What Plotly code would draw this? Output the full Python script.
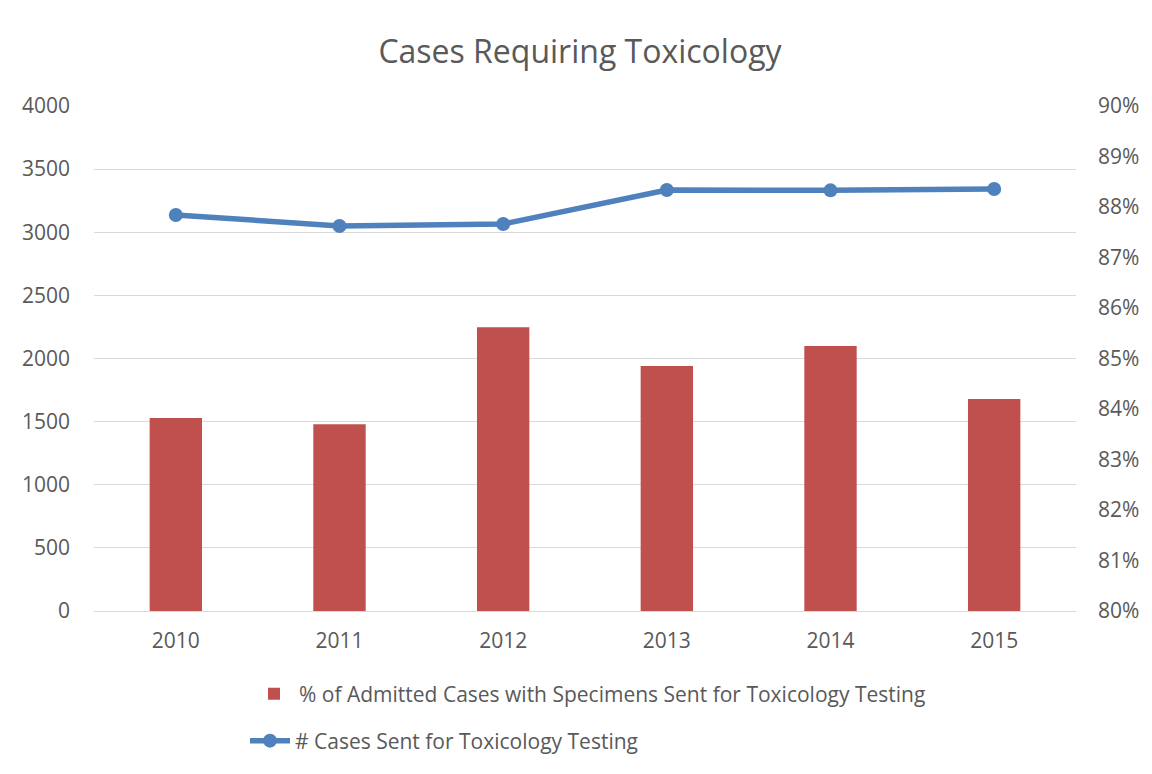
import plotly.graph_objects as go

years = ["2010", "2011", "2012", "2013", "2014", "2015"]
pct_admitted = [0.8382, 0.8370, 0.8562, 0.8485, 0.8525, 0.8420]
cases_sent = [3137, 3050, 3065, 3335, 3332, 3343]

bar_name = "% of Admitted Cases with Specimens Sent for Toxicology Testing"
line_name = "# Cases Sent for Toxicology Testing"

FONT = "Open Sans"
TXT = "#595959"

# page has an 8px body margin; compensate so the figure lands on the window
OFF = 8
W, H = 1152 - OFF, 774 - OFF
L, R, T, B = 94 - OFF, 76, 106 - OFF, 163

pw, ph = W - L - R, H - T - B


def px(x):
    return (x - OFF - L) / pw


def py(y):
    return (H - B - (y - OFF)) / ph


fig = go.Figure()
fig.add_trace(go.Bar(
    x=years, y=pct_admitted, name=bar_name, yaxis="y2",
    marker=dict(color="#C0504D", line=dict(width=0)), width=0.32,
    legend="legend",
))
fig.add_trace(go.Scatter(
    x=years, y=cases_sent, name=line_name, yaxis="y",
    mode="lines+markers",
    line=dict(color="#4F81BD", width=5.5),
    marker=dict(color="#4F81BD", size=14),
    legend="legend2",
))

fig.update_layout(
    width=W, height=H,
    margin=dict(l=L, r=R, t=T, b=B),
    paper_bgcolor="white", plot_bgcolor="white",
    font=dict(family=FONT, color=TXT, size=21),
    title=dict(text="Cases Requiring Toxicology", x=0.5, xanchor="center",
               y=1 - (52 - OFF) / H, yanchor="middle",
               font=dict(size=32, color=TXT, family=FONT)),
    xaxis=dict(showgrid=False, showline=True, linecolor="#D9D9D9", linewidth=1,
               ticks="", tickfont=dict(size=21, color=TXT), ticklabelstandoff=11),
    yaxis=dict(range=[0, 4000], dtick=500, showgrid=True, gridcolor="#D9D9D9",
               gridwidth=1, zeroline=False, showline=False, ticks="",
               tickfont=dict(size=21, color=TXT), ticklabelstandoff=23),
    yaxis2=dict(range=[0.80, 0.90], dtick=0.01, tickformat=".0%", overlaying="y",
                side="right", showgrid=False, zeroline=False, showline=False,
                ticks="", tickfont=dict(size=21, color=TXT), ticklabelstandoff=21),
    legend=dict(x=px(249), y=py(694), xanchor="left", yanchor="middle",
                bgcolor="rgba(0,0,0,0)", font=dict(size=21, color=TXT),
                itemwidth=40),
    legend2=dict(x=px(245), y=py(741), xanchor="left", yanchor="middle",
                 bgcolor="rgba(0,0,0,0)", font=dict(size=21, color=TXT),
                 itemwidth=40),
    showlegend=True,
)

fig.write_html("out.html")
